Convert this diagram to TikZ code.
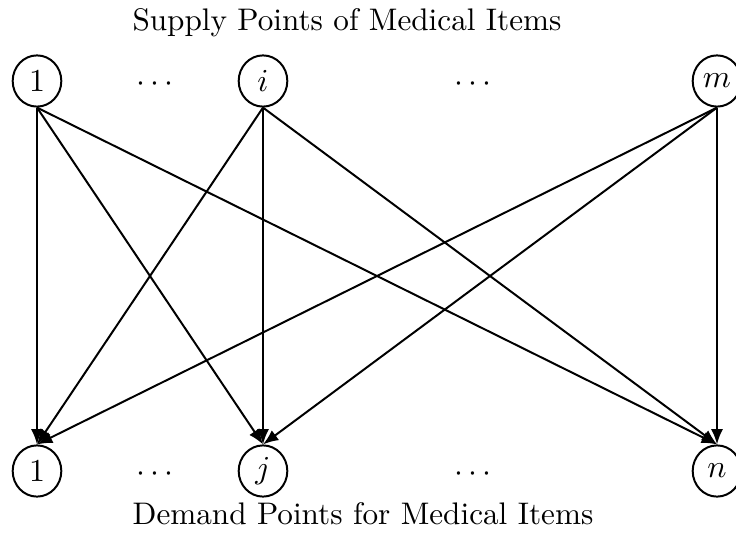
\documentclass[tikz,border=0pt]{standalone}
\usetikzlibrary{arrows.meta,shapes.geometric}
\begin{document}
\begin{tikzpicture}[x=0.3125pt,y=-0.3125pt,
  vertex/.style={draw,ellipse,line width=0.62pt,inner sep=0pt,minimum width=15.2pt,minimum height=16pt},
  flow/.style={line width=0.62pt,-{Latex[length=4.8pt,width=3.8pt]}},
  caption/.style={inner sep=0pt,font=\fontsize{9.75}{12}\selectfont}]
\useasboundingbox (0,0) rectangle (736,540);
% supply points
\node[vertex] (s1) at (37,81) {$1$};
\node[vertex] (si) at (263,81) {$i$};
\node[vertex] (sm) at (717,81) {$m$};
\node (sd1) at (155,84) {$\cdots$};
\node (sd2) at (473,84) {$\cdots$};
% demand points
\node[vertex] (d1) at (37,471) {$1$};
\node[vertex] (dj) at (263,471) {$j$};
\node[vertex] (dn) at (717,471) {$n$};
\node (dd1) at (155,474) {$\cdots$};
\node (dd2) at (473,474) {$\cdots$};
% captions
\node[caption] (top) at (347,23) {Supply Points of Medical Items};
\node[caption] (bot) at (363,514) {Demand Points for Medical Items};
% flows
\foreach \s in {s1,si,sm}
  \foreach \d in {d1,dj,dn}
    \draw[flow] (\s.south) -- (\d.north);
\end{tikzpicture}
\end{document}
